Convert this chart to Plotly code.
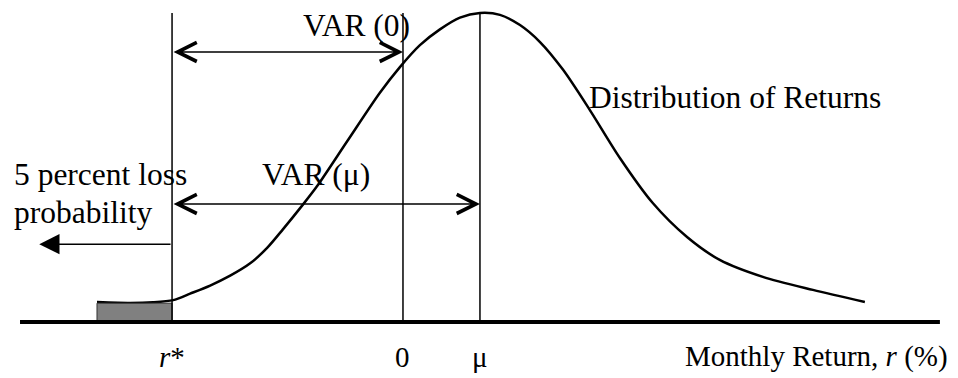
import plotly.graph_objects as go

# distribucion de rendimientos (unidades arbitrarias)
returns = [-7.95, -7.09, -6.50, -5.97, -5.53, -5.01, -4.49, -3.97, -3.53, -3.12, -2.60,
           -2.23, -1.45, -0.60, -0.08, 0.44, 0.96, 1.48, 2.0, 2.52, 3.04, 3.56, 4.16,
           4.86, 5.64, 6.49, 7.38, 8.23, 9.35, 10.65, 12.0]
density = [0.065, 0.062, 0.064, 0.071, 0.092, 0.118, 0.150, 0.190, 0.240, 0.300, 0.380,
           0.440, 0.585, 0.742, 0.825, 0.896, 0.947, 0.985, 1.0, 0.994, 0.961, 0.906, 0.816,
           0.685, 0.530, 0.385, 0.275, 0.201, 0.146, 0.104, 0.065]

r_star = -6.0
zero = 0.0
mu = 2.0
tail_left = -7.95
tail_height = 0.061
peak = 1.0

tick_vals = [r_star, zero, mu]
tick_text = ["<i>r</i>*", "0", "μ"]

font = dict(family="Liberation Serif, Times New Roman, serif", size=31.5, color="black")
font_eje = dict(family="Liberation Serif, Times New Roman, serif", size=29, color="black")

fig = go.Figure()

# cola del 5 por ciento
fig.add_shape(type="rect", x0=tail_left, x1=r_star, y0=0, y1=tail_height,
              fillcolor="#808080", line=dict(color="#333333", width=1))

# lineas verticales r*, 0, mu
for xv in tick_vals:
    fig.add_shape(type="line", x0=xv, x1=xv, y0=0, y1=peak,
                  line=dict(color="black", width=1.5))

# curva
fig.add_trace(go.Scatter(x=returns, y=density, mode="lines",
                         line=dict(color="black", width=2.5, shape="spline", smoothing=0.8),
                         hoverinfo="skip", showlegend=False))

# eje horizontal
fig.add_shape(type="line", x0=-9.95, x1=13.95, y0=0, y1=0,
              line=dict(color="black", width=4))

# flechas VAR
def flecha(x0, x1, y, head, both=True, size=2.0):
    fig.add_annotation(x=x1, y=y, ax=x0, ay=y, xref="x", yref="y", axref="x", ayref="y",
                       text="", showarrow=True, arrowhead=head, arrowsize=size,
                       arrowwidth=1.5, arrowcolor="black",
                       arrowside="end+start" if both else "end",
                       startarrowhead=head, startarrowsize=size, standoff=0, startstandoff=0)

flecha(r_star, zero, 0.874, 5, size=2.5)
flecha(r_star, mu, 0.382, 5, size=2.5)
flecha(r_star, -9.45, 0.252, 2, both=False, size=2.7)

def texto(x, y, s, anchor="left", f=font):
    fig.add_annotation(x=x, y=y, xref="x", yref="y", text=s, showarrow=False,
                       xanchor=anchor, yanchor="middle", font=f)

texto(-1.22, 0.958, "VAR (0)", "center")
texto(-2.25, 0.476, "VAR (μ)", "center")
texto(-10.16, 0.476, "5 percent loss")
texto(-10.16, 0.356, "probability")
texto(4.78, 0.728, "Distribution of Returns")
texto(14.2, -0.113, "Monthly Return, <i>r</i> (%)", "right", font_eje)
for xv, t in zip(tick_vals, tick_text):
    texto(xv, -0.113, t, "center", font_eje)

fig.update_layout(
    width=958, height=378,
    margin=dict(l=0, r=0, t=0, b=0),
    paper_bgcolor="white", plot_bgcolor="white",
    xaxis=dict(range=[-10.47, 14.42], visible=False, fixedrange=True),
    yaxis=dict(range=[-0.181, 1.042], visible=False, fixedrange=True),
    showlegend=False,
)

fig.write_html("out.html", config={"displayModeBar": False},
               post_script="document.body.style.margin='0';")
